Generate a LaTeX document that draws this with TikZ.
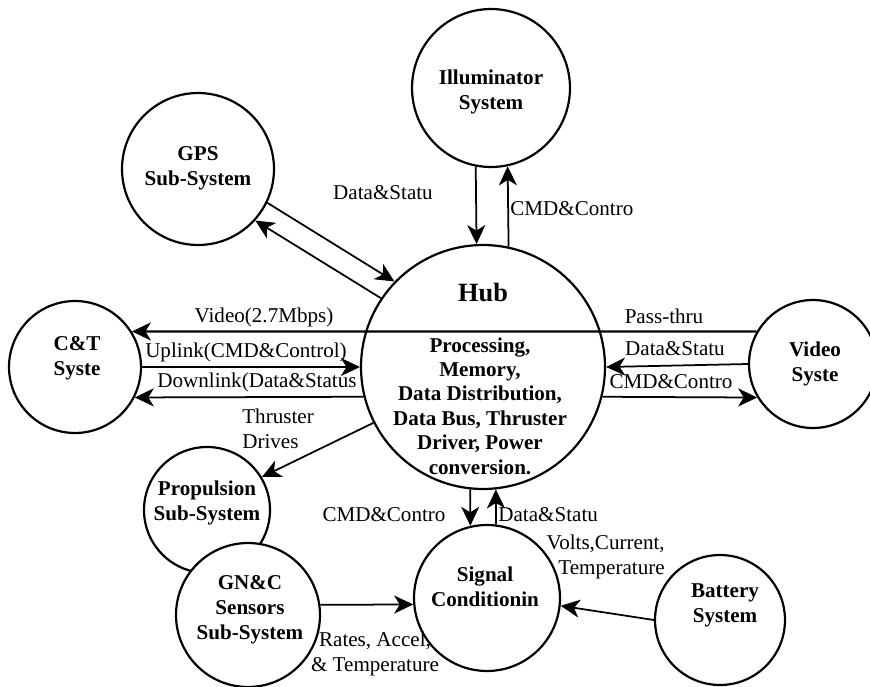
\documentclass[tikz,border=0pt]{standalone}
\usepackage{fontspec}
\setmainfont{Liberation Serif}
\usepackage{tikz}
\usetikzlibrary{arrows.meta,calc,positioning}

\begin{document}
\begin{tikzpicture}[x=0.02cm,y=-0.02cm,
  sys/.style={draw,circle,line width=1.25pt,fill=white,inner sep=0pt},
  sysname/.style={font=\fontsize{12}{14.2}\selectfont\bfseries,align=center,inner sep=0pt},
  lbl/.style={font=\fontsize{12}{14}\selectfont,inner sep=0pt},
  flow/.style={line width=1pt,-{Stealth[length=0.38cm,width=0.36cm,inset=0.11cm]}}]
  \useasboundingbox (0,0) rectangle (870,687);
  \node[sys,minimum size=3.16cm] (ill) at (491,88) {};
  \node[sys,minimum size=3.04cm] (gps) at (198,169) {};
  \node[sys,minimum size=2.64cm] (ct) at (75,367) {};
  \node[sys,minimum size=2.56cm] (video) at (813,364) {};
  \node[sys,minimum size=4.88cm] (hub) at (483,367) {};
  \node[sys,minimum size=2.52cm] (prop) at (207,510) {};
  \node[sys,minimum size=2.88cm] (gnc) at (248,615) {};
  \node[sys,minimum size=2.92cm] (sig) at (487,598) {};
  \node[sys,minimum size=2.60cm] (bat) at (720,620) {};
  \node[sysname] (illname) at (491,92) {Illuminator\\System};
  \node[sysname] (gpsname) at (198,168) {GPS\\Sub-System};
  \node[sysname] (ctname) at (77,358) {C\&T\\Syste};
  \node[sysname] (videoname) at (815,364) {Video\\Syste};
  \node[sysname,font=\fontsize{15}{18}\selectfont\bfseries] (hubname) at (483,293) {Hub};
  \node[sysname,font=\fontsize{12}{13.9}\selectfont\bfseries] (hubtasks) at (480,406)
    {Processing,\\Memory,\\Data Distribution,\\Data Bus, Thruster\\Driver, Power\\conversion.};
  \node[sysname] (propname) at (207,503) {Propulsion\\Sub-System};
  \node[sysname] (gncname) at (250,610) {GN\&C\\Sensors\\Sub-System};
  \node[sysname] (signame) at (485,587) {Signal\\Conditionin};
  \node[sysname] (batname) at (725,605) {Battery\\System};
  \draw[flow] (gps.-26.2) -- (hub.136.6);
  \draw[flow] (hub.146.9) -- (gps.-42.8);
  \draw[flow] (ill.-101.7) -- (hub.93.8);
  \draw[flow] (hub.78.7) -- (ill.-78.3);
  \draw[flow,line width=1.3pt] (video.150) -- (ct.32);
  \draw[flow] (ct.east) -- (hub.west);
  \draw[flow] (hub.194.2) -- (ct.-27);
  \draw[flow] (video.west) -- (hub.east);
  \draw[flow] (hub.-14.2) -- (video.211);
  \draw[flow] (hub.207) -- (prop.31.3);
  \draw[flow] (hub.-96.1) -- (sig.103.5);
  \draw[flow] (sig.83.7) -- (hub.-84.4);
  \draw[flow] (gnc.8) -- (sig.185.5);
  \draw[flow] (bat.west) -- (sig.-6.3);
  \node[lbl] (gpsdata) at (383,193) {Data\&Statu};
  \node[lbl,anchor=west] (illcmd) at (510,209) {CMD\&Contro};
  \node[lbl] (videorate) at (264,317) {Video(2.7Mbps)};
  \node[lbl] (passthru) at (664,316) {Pass-thru};
  \node[lbl] (uplink) at (246,352) {Uplink(CMD\&Control)};
  \node[lbl] (downlink) at (257,382) {Downlink(Data\&Status};
  \node[lbl] (videodata) at (675,349) {Data\&Statu};
  \node[lbl] (videocmd) at (671,382) {CMD\&Contro};
  \node[lbl,align=left,anchor=west] (thrust) at (242,429) {Thruster\\Drives};
  \node[lbl] (sigcmd) at (384,515) {CMD\&Contro};
  \node[lbl,anchor=west] (sigdata) at (498,515) {Data\&Statu};
  \node[lbl,align=right,anchor=east] (volts) at (665,557) {Volts,Current,\\Temperature};
  \node[lbl,align=center] (rates) at (375,654) {Rates, Accel,\\\& Temperature};
\end{tikzpicture}
\end{document}
